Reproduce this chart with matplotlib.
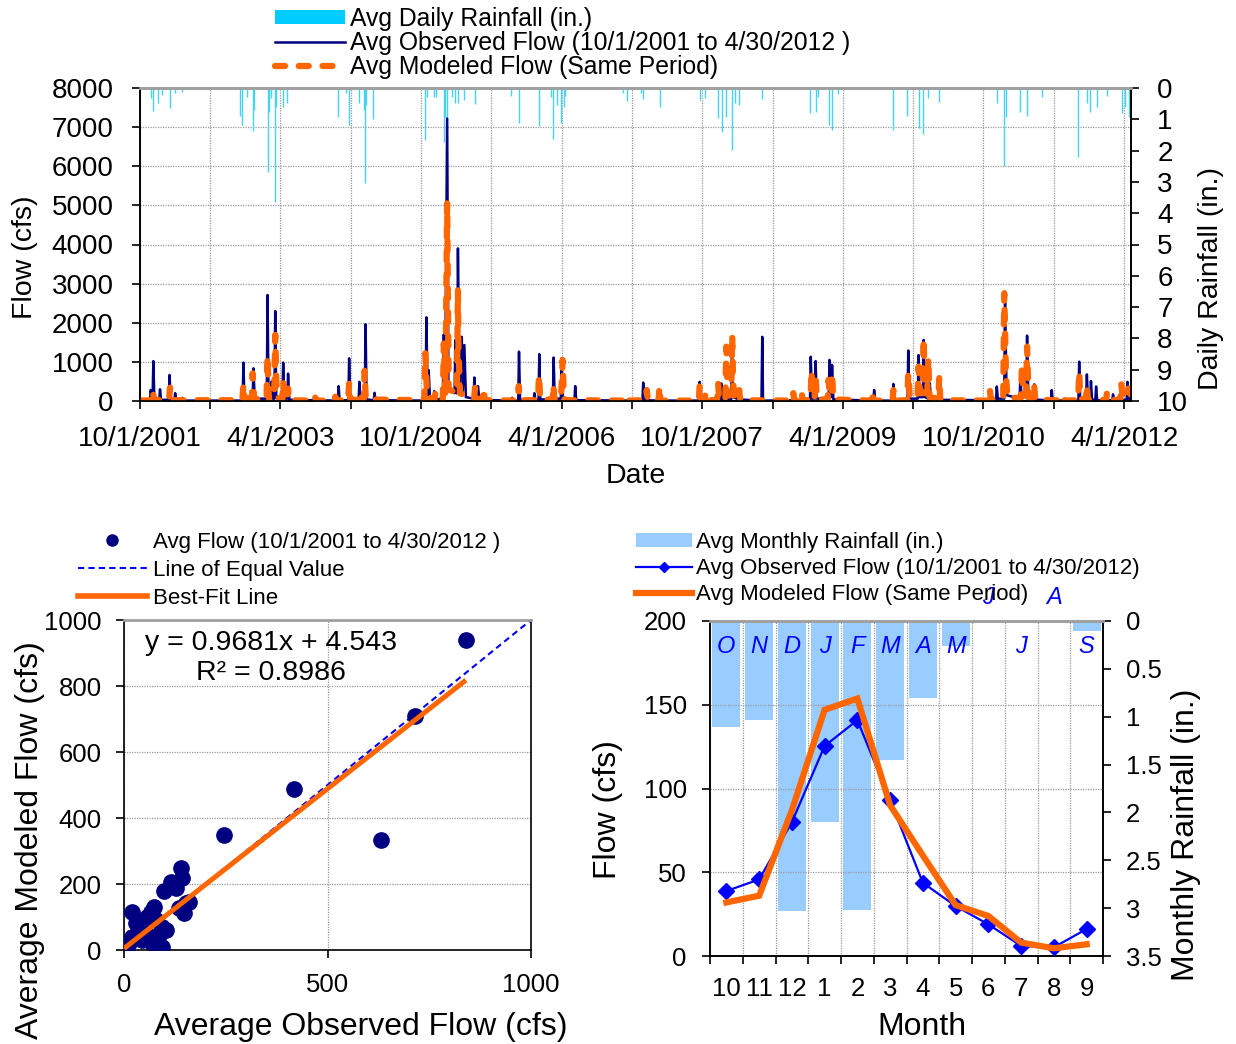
import numpy as np
import pandas as pd
import matplotlib
matplotlib.use("Agg")
import matplotlib.pyplot as plt
from matplotlib.lines import Line2D
from matplotlib.patches import Patch

plt.rcParams['font.family'] = ['Liberation Sans', 'DejaVu Sans']

# ============================
# Datos - serie diaria
# ============================

obs_dates = [
    "2001-10-01", "2001-11-09", "2001-11-12", "2001-11-16", "2001-11-19", "2001-11-22", "2001-11-26",
    "2001-12-15", "2001-12-18", "2001-12-22", "2002-01-21", "2002-01-24", "2002-01-29",
    "2002-02-12", "2002-02-15", "2002-02-19", "2002-03-12", "2002-03-15", "2002-03-20",
    "2002-11-05", "2002-11-08", "2002-11-12", "2002-12-14", "2002-12-17", "2002-12-22",
    "2003-02-07", "2003-02-10", "2003-02-14", "2003-02-23", "2003-02-26", "2003-03-02",
    "2003-03-09", "2003-03-12", "2003-03-16", "2003-04-09", "2003-04-12", "2003-04-16",
    "2003-04-28", "2003-05-01", "2003-05-06", "2003-11-11", "2003-11-14", "2003-11-18",
    "2003-12-22", "2003-12-25", "2003-12-29", "2004-01-31", "2004-02-03", "2004-02-07",
    "2004-02-24", "2004-02-27", "2004-03-02", "2004-03-30", "2004-04-02", "2004-04-06",
    "2004-10-18", "2004-10-21", "2004-10-26", "2004-10-30", "2004-11-04", "2004-11-18",
    "2004-11-21", "2004-11-25", "2004-12-24", "2004-12-28", "2005-01-02", "2005-01-10",
    "2005-01-15", "2005-02-08", "2005-02-11", "2005-02-15", "2005-02-18", "2005-02-21",
    "2005-02-27", "2005-03-08", "2005-03-12", "2005-03-18", "2005-03-24", "2005-04-23",
    "2005-04-26", "2005-05-01", "2005-05-07", "2005-05-10", "2005-05-16", "2005-09-17",
    "2005-09-20", "2005-09-25", "2005-10-14", "2005-10-17", "2005-10-21", "2005-12-13",
    "2005-12-16", "2005-12-20", "2006-01-01", "2006-01-04", "2006-01-08", "2006-02-26",
    "2006-03-01", "2006-03-05", "2006-03-29", "2006-04-01", "2006-04-06", "2006-04-20",
    "2006-05-21", "2006-05-24", "2006-05-28", "2007-02-10", "2007-02-13", "2007-02-18",
    "2007-04-17", "2007-04-20", "2007-04-24", "2007-09-18", "2007-09-21", "2007-09-25",
    "2007-12-11", "2007-12-14", "2007-12-18", "2008-01-22", "2008-01-25", "2008-01-30",
    "2008-02-20", "2008-05-19", "2008-05-22", "2008-05-25", "2008-11-24", "2008-11-27",
    "2008-12-02", "2008-12-13", "2008-12-16", "2008-12-20", "2009-02-05", "2009-02-08",
    "2009-02-12", "2009-02-15", "2009-02-18", "2009-02-23", "2009-07-29", "2009-08-01",
    "2009-08-05", "2009-10-12", "2009-10-15", "2009-10-19", "2009-12-09", "2009-12-12",
    "2009-12-16", "2010-01-18", "2010-01-21", "2010-01-25", "2010-02-07", "2010-02-10",
    "2010-02-15", "2010-03-03", "2010-03-06", "2010-03-10", "2010-11-19", "2010-11-22",
    "2010-11-26", "2010-12-21", "2010-12-24", "2010-12-30", "2011-02-19", "2011-02-22",
    "2011-02-26", "2011-03-17", "2011-03-20", "2011-03-25", "2011-04-14", "2011-04-17",
    "2011-04-21", "2011-06-21", "2011-06-24", "2011-06-28", "2011-10-06", "2011-10-09",
    "2011-10-13", "2011-11-05", "2011-11-08", "2011-11-12", "2011-11-21", "2011-11-24",
    "2011-11-28", "2011-12-11", "2011-12-14", "2011-12-18", "2012-02-15", "2012-02-18",
    "2012-02-22", "2012-04-11", "2012-04-14", "2012-04-18", "2012-04-30",
]
obs_cfs = [
    10, 20, 280, 30, 30, 1020, 40,
    30, 300, 30, 30, 665, 40,
    30, 200, 20, 20, 80, 10,
    10, 980, 50, 50, 835, 60,
    60, 2710, 80, 80, 500, 60,
    60, 2300, 90, 60, 980, 60,
    60, 700, 30, 10, 380, 20,
    20, 1090, 30, 30, 490, 40,
    40, 1960, 40, 20, 210, 20,
    10, 2140, 150, 790, 60, 40,
    250, 40, 60, 1700, 200, 7225,
    300, 200, 1560, 200, 200, 3900,
    300, 1640, 250, 1430, 100, 60,
    600, 100, 60, 380, 30, 10,
    80, 10, 10, 1260, 30, 20,
    200, 20, 20, 1200, 40, 40,
    1110, 60, 60, 1090, 80, 30,
    20, 380, 20, 10, 470, 20,
    10, 60, 10, 10, 490, 20,
    20, 450, 40, 40, 1260, 100,
    40, 10, 1640, 10, 20, 1130,
    60, 60, 1020, 60, 60, 1050,
    100, 100, 920, 40, 10, 280,
    10, 10, 435, 10, 20, 1290,
    60, 60, 1175, 100, 100, 1560,
    100, 50, 450, 30, 20, 370,
    60, 60, 2795, 150, 60, 665,
    100, 100, 1670, 100, 60, 425,
    40, 10, 280, 10, 20, 1005,
    60, 60, 680, 60, 60, 510,
    40, 30, 370, 20, 20, 170,
    20, 30, 490, 60, 40,
]

mod_dates = [
    "2001-10-01", "2001-11-16", "2001-11-20", "2001-11-25", "2002-01-22", "2002-01-26", "2002-01-31",
    "2002-11-04", "2002-11-08", "2002-11-13", "2002-11-27", "2002-11-30", "2002-12-05",
    "2002-12-11", "2002-12-14", "2002-12-20", "2003-02-06", "2003-02-10", "2003-02-15",
    "2003-03-08", "2003-03-12", "2003-03-18", "2003-04-09", "2003-04-12", "2003-04-17",
    "2003-04-28", "2003-05-01", "2003-05-06", "2003-08-11", "2003-08-14", "2003-08-18",
    "2003-10-29", "2003-11-01", "2003-11-05", "2003-12-21", "2003-12-25", "2003-12-30",
    "2004-02-04", "2004-02-07", "2004-02-11", "2004-02-20", "2004-02-23", "2004-02-28",
    "2004-10-13", "2004-10-17", "2004-10-24", "2004-11-22", "2004-11-25", "2004-11-29",
    "2004-12-24", "2004-12-28", "2005-01-03", "2005-01-10", "2005-01-16", "2005-02-17",
    "2005-02-21", "2005-02-23", "2005-03-01", "2005-04-25", "2005-04-29", "2005-05-04",
    "2005-05-28", "2005-06-01", "2005-06-06", "2005-10-13", "2005-10-16", "2005-10-20",
    "2005-12-30", "2006-01-03", "2006-01-08", "2006-02-25", "2006-02-28", "2006-03-04",
    "2006-03-29", "2006-04-02", "2006-04-05", "2006-04-10", "2006-04-20", "2006-12-07",
    "2006-12-10", "2006-12-14", "2007-02-24", "2007-02-27", "2007-03-03", "2007-04-14",
    "2007-04-17", "2007-04-21", "2007-09-18", "2007-09-21", "2007-09-26", "2007-10-11",
    "2007-10-14", "2007-10-18", "2007-11-28", "2007-12-02", "2007-12-06", "2007-12-30",
    "2008-01-03", "2008-01-08", "2008-01-22", "2008-01-26", "2008-01-29", "2008-02-02",
    "2008-02-19", "2008-02-22", "2008-02-26", "2008-09-17", "2008-09-20", "2008-09-24",
    "2008-10-20", "2008-10-23", "2008-10-27", "2008-11-26", "2008-11-30", "2008-12-05",
    "2008-12-12", "2008-12-16", "2008-12-21", "2009-02-01", "2009-02-04", "2009-02-10",
    "2009-02-15", "2009-02-18", "2009-02-23", "2009-07-21", "2009-07-24", "2009-07-28",
    "2009-10-12", "2009-10-15", "2009-10-19", "2009-12-08", "2009-12-12", "2009-12-18",
    "2010-01-17", "2010-01-21", "2010-01-27", "2010-02-06", "2010-02-10", "2010-02-15",
    "2010-02-24", "2010-02-28", "2010-03-05", "2010-04-08", "2010-04-12", "2010-04-16",
    "2010-10-22", "2010-10-26", "2010-10-30", "2010-12-17", "2010-12-21", "2010-12-28",
    "2011-01-03", "2011-02-24", "2011-02-28", "2011-03-04", "2011-03-16", "2011-03-20",
    "2011-03-26", "2011-04-14", "2011-04-17", "2011-04-21", "2011-08-06", "2011-08-09",
    "2011-08-13", "2011-10-05", "2011-10-09", "2011-10-14", "2011-11-04", "2011-11-08",
    "2011-11-12", "2012-01-22", "2012-01-25", "2012-01-29", "2012-03-17", "2012-03-21",
    "2012-03-27", "2012-04-14", "2012-04-18", "2012-04-30",
]
mod_cfs = [
    10, 20, 240, 30, 20, 340, 20,
    20, 425, 30, 30, 240, 40,
    40, 707, 50, 40, 1150, 80,
    80, 1690, 90, 60, 510, 50,
    40, 320, 20, 10, 110, 10,
    10, 110, 20, 20, 450, 30,
    30, 200, 40, 40, 770, 40,
    20, 1220, 100, 40, 200, 30,
    60, 1470, 200, 5050, 300, 200,
    2840, 1390, 200, 60, 370, 60,
    40, 320, 20, 10, 380, 20,
    20, 665, 30, 40, 410, 50,
    50, 500, 1050, 60, 20, 10,
    110, 10, 20, 280, 20, 10,
    370, 10, 10, 410, 40, 40,
    200, 20, 20, 450, 40, 40,
    1390, 150, 150, 1690, 580, 100,
    60, 280, 20, 10, 200, 10,
    10, 200, 10, 30, 775, 100,
    100, 620, 40, 40, 540, 150,
    150, 707, 40, 10, 240, 10,
    10, 280, 10, 20, 707, 100,
    100, 880, 200, 200, 1600, 200,
    200, 1090, 100, 60, 620, 20,
    10, 280, 40, 60, 2750, 620,
    80, 80, 920, 150, 150, 1390,
    80, 60, 370, 40, 10, 110,
    10, 20, 750, 60, 40, 410,
    40, 20, 200, 20, 30, 450,
    80, 80, 320, 100,
]

rain_dates = [
    "2001-11-12", "2001-11-20", "2001-12-11", "2001-12-24", "2002-01-24", "2002-02-13", "2002-03-15",
    "2002-10-25", "2002-11-04", "2002-11-23", "2002-12-14", "2002-12-19", "2003-02-10", "2003-02-16",
    "2003-02-22", "2003-03-11", "2003-03-16", "2003-04-12", "2003-04-27", "2003-11-10", "2003-12-13",
    "2003-12-23", "2004-02-02", "2004-02-20", "2004-02-23", "2004-03-01", "2004-03-28", "2004-10-16",
    "2004-10-25", "2004-11-19", "2004-11-28", "2004-12-28", "2005-01-03", "2005-01-08", "2005-01-30",
    "2005-02-11", "2005-02-23", "2005-03-18", "2005-04-29", "2005-09-17", "2005-10-17", "2006-01-03",
    "2006-02-20", "2006-02-25", "2006-03-13", "2006-03-30", "2006-04-09", "2006-04-15", "2006-11-27",
    "2006-12-10", "2007-02-04", "2007-02-14", "2007-04-20", "2007-09-21", "2007-10-10", "2007-12-02",
    "2007-12-18", "2008-01-03", "2008-01-25", "2008-02-05", "2008-02-22", "2008-05-22", "2008-11-24",
    "2008-12-17", "2008-12-26", "2009-02-08", "2009-02-17", "2009-03-13", "2009-10-15", "2009-12-08",
    "2010-01-21", "2010-02-07", "2010-02-28", "2010-04-12", "2010-11-22", "2010-12-20", "2010-12-28",
    "2011-02-22", "2011-03-20", "2011-05-19", "2011-10-06", "2011-11-08", "2011-11-21", "2011-12-17",
    "2012-01-25", "2012-03-23", "2012-04-05", "2012-04-21",
]
rain_in = [
    0.33, 0.72, 0.47, 0.22, 0.65, 0.15, 0.12,
    0.89, 1.18, 0.28, 1.36, 0.70, 2.67, 0.76,
    0.33, 3.63, 0.60, 0.60, 0.47, 0.92, 0.17,
    1.18, 0.49, 0.70, 3.05, 0.54, 1.00, 1.66,
    0.28, 0.28, 0.28, 1.71, 0.92, 0.92, 0.28,
    0.49, 0.49, 0.38, 0.51, 0.26, 1.11, 1.21,
    0.28, 1.64, 0.54, 1.11, 0.60, 0.26, 0.17,
    0.40, 0.17, 0.36, 0.62, 0.38, 0.33, 0.97,
    1.39, 0.92, 1.98, 0.49, 0.54, 0.36, 0.79,
    0.76, 0.28, 1.18, 1.34, 0.19, 1.34, 0.89,
    1.29, 1.47, 0.33, 0.44, 0.49, 2.49, 0.92,
    0.76, 0.89, 0.28, 2.19, 0.49, 0.76, 0.60,
    0.26, 0.79, 0.60, 0.92,
]

date_ticks = [
    "2001-10-01", "2002-07-01", "2003-04-01", "2004-01-01", "2004-10-01", "2005-07-01",
    "2006-04-01", "2007-01-01", "2007-10-01", "2008-07-01", "2009-04-01", "2010-01-01",
    "2010-10-01", "2011-07-01", "2012-04-01",
]
date_labels = [
    "10/1/2001", "", "4/1/2003", "", "10/1/2004", "", "4/1/2006", "", "10/1/2007", "",
    "4/1/2009", "", "10/1/2010", "", "4/1/2012",
]

# ============================
# Datos - dispersion (promedios mensuales)
# ============================

scat_obs = [840, 716, 418, 246, 631, 139, 143, 115, 127, 98, 160, 148, 74, 66, 20, 94,
            29, 78, 37, 53, 94, 70, 12, 0, 8, 45, 20, 86, 102, 57, 135, 152]
scat_mod = [939, 709, 487, 347, 333, 249, 217, 207, 187, 179, 146, 111, 131, 116, 116, 71,
            81, 91, 56, 51, 10, 20, 20, 10, 0, 30, 40, 45, 61, 101, 126, 141]
fit_slope = 0.9681
fit_intercept = 4.543
fit_r2 = 0.8986

# ============================
# Datos - promedios por mes
# ============================

months = ["10", "11", "12", "1", "2", "3", "4", "5", "6", "7", "8", "9"]
month_letters = ["O", "N", "D", "J", "F", "M", "A", "M", "J", "J", "A", "S"]
month_rain = [1.11, 1.03, 3.03, 2.10, 3.02, 1.45, 0.80, 0.26, 0.0, 0.0, 0.0, 0.10]
month_obs = [38.8, 45.7, 79.9, 125.4, 140.8, 93.0, 43.7, 29.8, 18.9, 6.0, 5.2, 16.1]
month_mod = [32.0, 36.0, 87.0, 147.0, 153.7, 90.0, 60.0, 30.4, 23.9, 8.0, 4.6, 7.0]

# ============================
# Figura
# ============================

W, H = 1236, 1044
fig = plt.figure(figsize=(W / 100, H / 100), dpi=100)


def px_axes(l, t, r, b):
    return fig.add_axes([l / W, 1 - b / H, (r - l) / W, (b - t) / H])


def fig_text(x, y, s, **kw):
    fig.text(x / W, 1 - y / H, s, ha="center", va="center", **kw)


grid_kw = dict(color="#9a9a9a", linestyle=(0, (1, 1)), linewidth=0.9)
navy = "#000080"
orange = "#ff6600"
blue = "#0000ff"


def style_spines(ax):
    for s in ["left", "right", "bottom"]:
        ax.spines[s].set_color("black")
        ax.spines[s].set_linewidth(1.2)
    ax.spines["top"].set_color("#a0a0a0")
    ax.spines["top"].set_linewidth(2.0)


# ----- 1. Serie de tiempo diaria -----
ax1 = px_axes(140, 88, 1131, 401)
ax1r = ax1.twinx()

ax1.plot(pd.to_datetime(obs_dates), obs_cfs, color=navy, lw=1.8, zorder=3)
ax1.plot(pd.to_datetime(mod_dates), mod_cfs, color=orange, lw=4.5, zorder=4,
         linestyle=(0, (1.6, 2.2)), dash_capstyle="round")
ax1r.vlines(pd.to_datetime(rain_dates), 0, rain_in, color="#45d2f5", lw=1.0)

ax1.set_xlim(pd.Timestamp("2001-10-01"), pd.Timestamp("2012-04-28"))
ax1.set_ylim(0, 8000)
ax1.set_yticks(np.arange(0, 8001, 1000))
ax1.set_xticks(pd.to_datetime(date_ticks))
ax1.set_xticklabels(date_labels)
ax1r.set_ylim(10, 0)
ax1r.set_yticks(np.arange(0, 11, 1))
ax1.grid(True, **grid_kw)
ax1.tick_params(labelsize=20, direction="out", length=6, width=1.2)
ax1.tick_params(axis="y", pad=12.9)
ax1.tick_params(axis="x", pad=12.1)
ax1r.tick_params(labelsize=20, direction="out", length=6, width=1.2, pad=12.9)
for a in (ax1, ax1r):
    style_spines(a)

fig_text(25, 257, "Flow (cfs)", fontsize=20.5, rotation=90)
fig_text(1211, 279, "Daily Rainfall (in.)", fontsize=20.5, rotation=90)
fig_text(636, 476, "Date", fontsize=20.5)

top_handles = [
    Patch(facecolor="#00ccff", edgecolor="none"),
    Line2D([], [], color=navy, lw=1.8),
    Line2D([], [], color=orange, lw=4.5, linestyle=(0, (1.6, 2.2)), dash_capstyle="round"),
]
top_labels = ["Avg Daily Rainfall (in.)", "Avg Observed Flow (10/1/2001 to 4/30/2012 )",
              "Avg Modeled Flow (Same Period)"]
fig.legend(top_handles, top_labels, loc="upper left", bbox_to_anchor=(275 / W, 1 - 7 / H),
           frameon=False, fontsize=17.8, borderpad=0, borderaxespad=0, handlelength=2.83,
           handleheight=0.5, handletextpad=0.2, labelspacing=0.0)

# ----- 2. Dispersion observado vs modelado -----
ax2 = px_axes(124, 620, 531, 950)
ax2.plot([0, 1000], [0, 1000], color=blue, lw=1.5, linestyle=(0, (3, 2)), zorder=2)
ax2.plot(scat_obs, scat_mod, "o", color=navy, markersize=11, zorder=3)
fit_x = np.array([0, max(scat_obs)])
ax2.plot(fit_x, fit_slope * fit_x + fit_intercept, color=orange, lw=3.6, zorder=4,
         solid_capstyle="butt")
ax2.set_xlim(0, 1000)
ax2.set_ylim(0, 1000)
ax2.set_xticks([0, 500, 1000])
ax2.set_yticks(np.arange(0, 1001, 200))
ax2.grid(True, **grid_kw)
ax2.set_axisbelow(True)
ax2.tick_params(labelsize=18.5, direction="out", length=6, width=1.2)
ax2.tick_params(axis="y", pad=10.0)
ax2.tick_params(axis="x", pad=10.7)
style_spines(ax2)
ax2.text(0.362, 0.885, f"y = {fit_slope}x + {fit_intercept}\nR² = {fit_r2}",
         transform=ax2.transAxes, ha="center", va="center", fontsize=20.5, linespacing=1.2)

fig_text(361, 1027, "Average Observed Flow (cfs)", fontsize=23)
fig_text(30, 840, "Average Modeled Flow (cfs)", fontsize=23, rotation=90)

sc_handles = [
    Line2D([], [], color=navy, marker="o", linestyle="none", markersize=8),
    Line2D([], [], color=blue, lw=1.5, linestyle=(0, (3, 2))),
    Line2D([], [], color=orange, lw=4.0),
]
sc_labels = ["Avg Flow (10/1/2001 to 4/30/2012 )", "Line of Equal Value", "Best-Fit Line"]
fig.legend(sc_handles, sc_labels, loc="upper left", bbox_to_anchor=(78 / W, 1 - 532 / H),
           frameon=False, fontsize=16, borderpad=0, borderaxespad=0, handlelength=3.1,
           handletextpad=0.28, labelspacing=0.31, numpoints=1)

# ----- 3. Promedios mensuales -----
ax3 = px_axes(710, 621, 1103, 956)
ax3r = ax3.twinx()
x = np.arange(len(months))

ax3r.bar(x, month_rain, width=0.86, color="#99ccff", zorder=1)
ax3r.set_ylim(3.5, 0)
ax3r.set_yticks(np.arange(0, 3.51, 0.5))
ax3r.set_yticklabels(["0", "0.5", "1", "1.5", "2", "2.5", "3", "3.5"])

ax3.set_zorder(ax3r.get_zorder() + 1)
ax3.patch.set_visible(False)
ax3.plot(x, month_obs, color=blue, lw=1.6, marker="D", markersize=8, zorder=3)
ax3.plot(x, month_mod, color=orange, lw=4.5, zorder=4, solid_joinstyle="miter")
ax3.set_xlim(-0.5, len(months) - 0.5)
ax3.set_ylim(0, 200)
ax3.set_yticks(np.arange(0, 201, 50))
ax3.set_xticks(np.arange(-0.5, len(months), 1.0))
ax3.set_xticklabels([])
ax3.set_xticks(x, minor=True)
ax3.set_xticklabels(months, minor=True)
ax3.grid(True, which="major", **grid_kw)
ax3.tick_params(labelsize=18.5, direction="out", length=6, width=1.2)
ax3.tick_params(axis="y", pad=10.7)
ax3.tick_params(axis="x", which="minor", labelsize=18.5, length=0, pad=15)
ax3r.tick_params(labelsize=18.5, direction="out", length=6, width=1.2, pad=10.7)
for a in (ax3, ax3r):
    style_spines(a)

for i, letter in enumerate(month_letters):
    ly = -0.25 if i in (8, 10) else 0.27
    ax3r.text(x[i], ly, letter, color=blue, fontsize=17, style="italic",
              ha="center", va="center", clip_on=False, zorder=5)

fig_text(608, 810, "Flow (cfs)", fontsize=23, rotation=90)
fig_text(922, 1027, "Month", fontsize=23)
fig_text(1186, 835, "Monthly Rainfall (in.)", fontsize=23, rotation=90)

mo_handles = [
    Patch(facecolor="#99ccff", edgecolor="none"),
    Line2D([], [], color=blue, lw=1.6, marker="D", markersize=5),
    Line2D([], [], color=orange, lw=4.5),
]
mo_labels = ["Avg Monthly Rainfall (in.)", "Avg Observed Flow (10/1/2001 to 4/30/2012)",
             "Avg Modeled Flow (Same Period)"]
fig.legend(mo_handles, mo_labels, loc="upper left", bbox_to_anchor=(636 / W, 1 - 532 / H),
           frameon=False, fontsize=16, borderpad=0, borderaxespad=0, handlelength=2.5,
           handleheight=0.55, handletextpad=0.2, labelspacing=0.22, numpoints=1)

fig.savefig("out.png", dpi=100)
